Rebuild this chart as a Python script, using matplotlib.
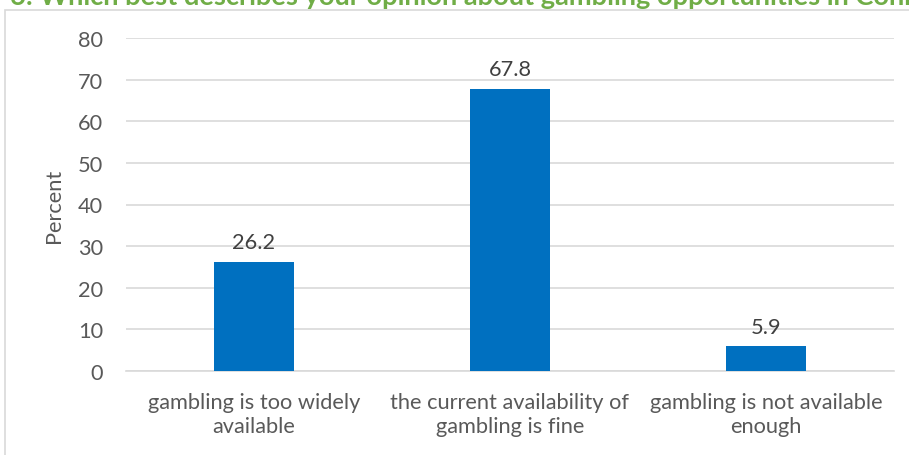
import matplotlib
matplotlib.use("Agg")
import matplotlib.pyplot as plt
from matplotlib.patches import Rectangle

plt.rcParams["font.family"] = ["Lato", "DejaVu Sans"]

categories = ["gambling is too widely\navailable",
              "the current availability of\ngambling is fine",
              "gambling is not available\nenough"]
percents = [26.2, 67.8, 5.9]
yticks = [0, 10, 20, 30, 40, 50, 60, 70, 80]
title = "6: Which best describes your opinion about gambling opportunities in Connecticut?"

BAR = "#0070C0"
GRID = "#D9D9D9"
TEXT = "#595959"
GREEN = "#70AD47"
FS = 15.7

W, H = 909, 456
fig = plt.figure(figsize=(W / 100, H / 100), dpi=100)

# chart frame (extends past the right and bottom edges)
fig.patches.append(Rectangle((5 / W, -0.1), 1.1, 1 - 11 / H + 0.1, transform=fig.transFigure,
                             fill=False, edgecolor=GRID, linewidth=1.2))

ax = fig.add_axes([126 / W, 1 - 372 / H, (894 - 126) / W, (372 - 39) / H])
x = range(len(categories))
bars = ax.bar(x, percents, width=0.31, color=BAR, zorder=3)
for b, v in zip(bars, percents):
    ax.annotate(f"{v}", (b.get_x() + b.get_width() / 2, v), xytext=(0, 7),
                textcoords="offset points", ha="center", va="bottom",
                fontsize=FS, color="#404040")

ax.set_xlim(-0.5, 2.5)
ax.set_ylim(0, 80)
ax.set_yticks(yticks)
ax.set_xticks(list(x))
ax.set_xticklabels(categories, fontsize=FS, color=TEXT, linespacing=1.25)
ax.tick_params(axis="y", labelsize=FS, labelcolor=TEXT, length=0, pad=16.5)
ax.tick_params(axis="x", length=0, pad=15)
ax.grid(axis="y", color=GRID, linewidth=1.2, zorder=0)
for s in ["top", "right", "left"]:
    ax.spines[s].set_visible(False)
ax.spines["bottom"].set_color(GRID)
ax.spines["bottom"].set_linewidth(1.2)
ax.set_ylabel("Percent", fontsize=FS, color=TEXT, labelpad=10)

fig.text(10 / W, 1 - 5 / H, title, fontsize=19.6, fontweight="bold", color=GREEN,
         ha="left", va="baseline")

fig.savefig("out.png", dpi=100)
